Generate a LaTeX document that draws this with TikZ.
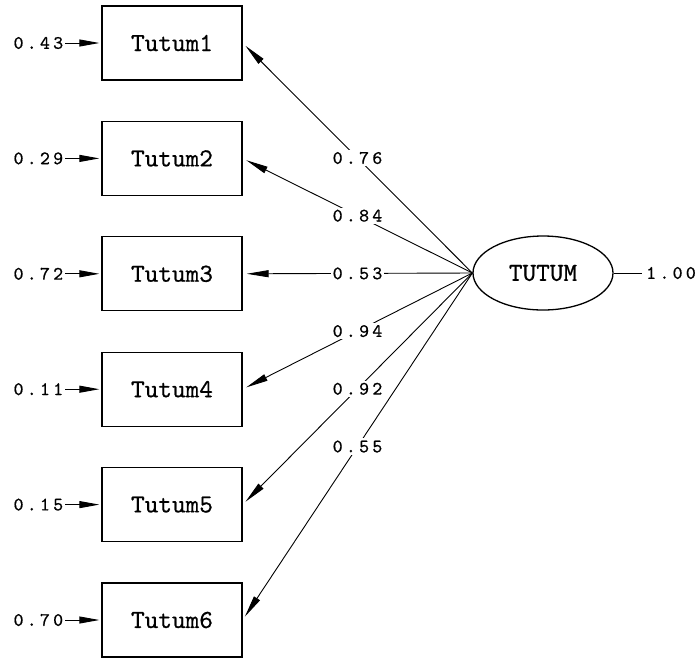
\documentclass[tikz,border=0pt]{standalone}
\usepackage{fontspec}
\usetikzlibrary{arrows.meta,shapes.geometric}

% typewriter faces for names and coefficients
\newfontfamily\namefam{lmmono10-regular}[Extension=.otf, FakeBold=0.6]
\newfontfamily\coeffam{lmmono10-regular}[Extension=.otf, FakeBold=0.7, LetterSpace=17]
\newcommand{\namefont}{\namefam\fontsize{26}{28}\selectfont}
\newcommand{\coeffont}{\coeffam\fontsize{19}{21}\selectfont}

\begin{document}
\begin{tikzpicture}[x=1pt,y=-1pt,
  var/.style={draw, line width=1.3pt, minimum width=140pt, minimum height=74pt,
    inner sep=0pt, font=\namefont},
  lat/.style={draw, ellipse, line width=1.3pt, minimum width=140pt, minimum height=74pt,
    inner sep=0pt, font=\namefont},
  loading/.style={line width=0.9pt, -{Triangle[length=22pt,width=7pt]}, shorten >=4pt},
  coef/.style={fill=white, inner sep=2pt, font=\coeffont},
  errarrow/.style={line width=0.9pt, -{Triangle[length=20pt,width=7pt]}, shorten >=2pt}
]
\useasboundingbox (0,0) rectangle (698,659);

% observed variables
\node[var] (v1) at (172,43)    {Tutum1};
\node[var] (v2) at (172,158.4) {Tutum2};
\node[var] (v3) at (172,273.8) {Tutum3};
\node[var] (v4) at (172,389.2) {Tutum4};
\node[var] (v5) at (172,504.6) {Tutum5};
\node[var] (v6) at (172,620)   {Tutum6};

% latent variable
\node[lat] (L) at (543,273) {TUTUM};

% factor loadings
\draw[loading] (L.west) -- node[coef] {0.76} (v1.east);
\draw[loading] (L.west) -- node[coef] {0.84} (v2.east);
\draw[loading] (L.west) -- node[coef] {0.53} (v3.east);
\draw[loading] (L.west) -- node[coef] {0.94} (v4.east);
\draw[loading] (L.west) -- node[coef] {0.92} (v5.east);
\draw[loading] (L.west) -- node[coef] {0.55} (v6.east);

% error variances
\foreach \i/\val in {1/0.43,2/0.29,3/0.72,4/0.11,5/0.15,6/0.70}{
  \node[coef, anchor=east] (e\i) at ([xshift=-36pt]v\i.west) {\val};
  \draw[errarrow] (e\i.east) -- (v\i.west);
}

% latent variance
\node[coef, anchor=east, inner sep=0pt] (eL) at (696,273) {1.00};
\draw[line width=0.9pt] (L.east) -- ([xshift=-4pt]eL.west);
\end{tikzpicture}
\end{document}
